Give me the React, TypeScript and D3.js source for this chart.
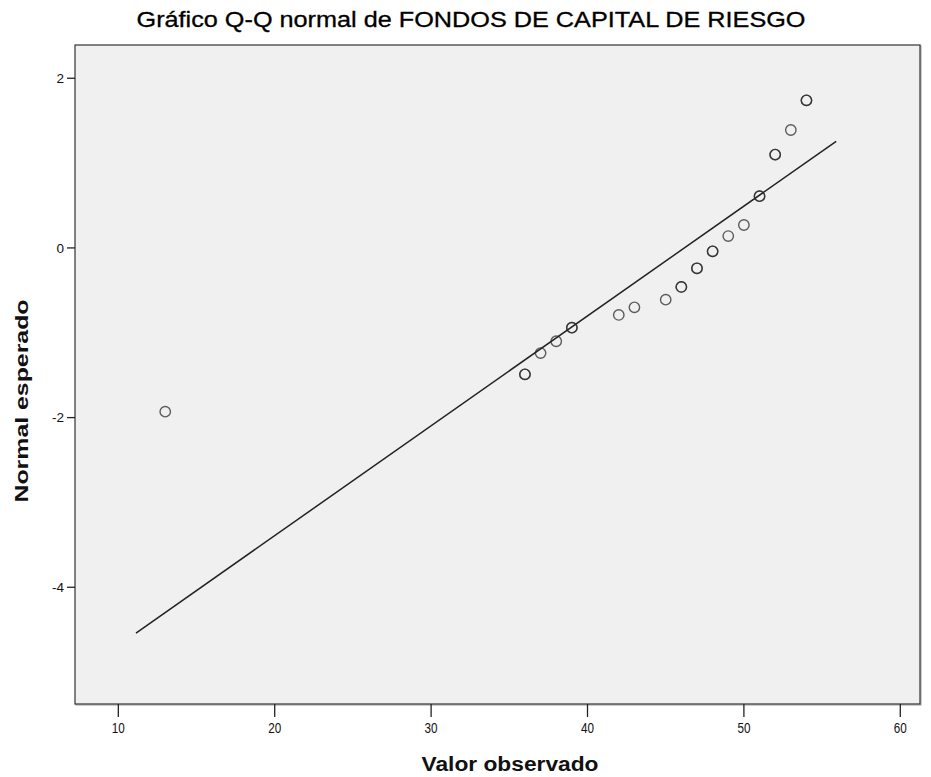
import React from "react";
import * as d3 from "d3";

// Observed values and their expected normal quantiles
const observed = [13, 36, 37, 38, 39, 42, 43, 45, 46, 47, 48, 49, 50, 51, 52, 53, 54];
const expected = [-1.93, -1.49, -1.24, -1.1, -0.94, -0.79, -0.7, -0.61, -0.46, -0.24, -0.04, 0.14, 0.27, 0.61, 1.1, 1.39, 1.74];
// How many cases share each observed value
const frequency = [1, 2, 1, 1, 2, 1, 1, 1, 2, 2, 2, 1, 1, 2, 2, 1, 2];

// Reference line endpoints (observed, expected)
const refLineX = [11.13, 55.9];
const refLineY = [-4.54, 1.257];

const xTicks = [10, 20, 30, 40, 50, 60];
const yTicks = [2, 0, -2, -4];

const W = 931;
const H = 777;
const plot = { left: 75, top: 45, right: 920, bottom: 704 };

const regular = "'Liberation Sans', Arial, sans-serif";

export default function App() {
  const x = d3.scaleLinear().domain([7.23, 61.26]).range([plot.left, plot.right]);
  const y = d3.scaleLinear().domain([-5.376, 2.392]).range([plot.bottom, plot.top]);

  const line = d3
    .line<[number, number]>()
    .x((d) => x(d[0]))
    .y((d) => y(d[1]));
  const refPts: [number, number][] = refLineX.map((v, i) => [v, refLineY[i]]);

  return (
    <svg
      width={W}
      height={H}
      style={{ position: "absolute", left: 0, top: 0, background: "#ffffff" }}
    >
      <text
        x={471}
        y={27}
        textAnchor="middle"
        style={{ fontFamily: regular, fontSize: "22px" }}
        fill="#000"
        stroke="#000"
        strokeWidth={0.3}
        textLength={669}
        lengthAdjust="spacingAndGlyphs"
      >
        Gráfico Q-Q normal de FONDOS DE CAPITAL DE RIESGO
      </text>

      {/* plot area */}
      <rect
        x={plot.left + 1}
        y={plot.top + 1}
        width={plot.right - plot.left}
        height={plot.bottom - plot.top}
        fill="none"
        stroke="#9a9a9a"
        strokeWidth={1}
      />
      <rect
        x={plot.left}
        y={plot.top}
        width={plot.right - plot.left}
        height={plot.bottom - plot.top}
        fill="#f0f0f0"
        stroke="#333"
        strokeWidth={1.2}
      />

      {/* x axis */}
      {xTicks.map((t) => (
        <g key={"x" + t}>
          <line x1={x(t)} x2={x(t)} y1={plot.bottom} y2={plot.bottom + 13} stroke="#222" strokeWidth={1.3} />
          <g transform={`translate(${x(t)},${plot.bottom + 29}) scale(0.78,1)`}>
            <text
              x={0}
              y={0}
              textAnchor="middle"
              style={{ fontFamily: regular, fontSize: "15px" }}
              fill="#111"
            >
              {t}
            </text>
          </g>
        </g>
      ))}

      {/* y axis */}
      {yTicks.map((t) => (
        <g key={"y" + t}>
          <line x1={plot.left - 8} x2={plot.left} y1={y(t)} y2={y(t)} stroke="#222" strokeWidth={1.3} />
          <text
            x={plot.left - 11}
            y={y(t)}
            dy="0.36em"
            textAnchor="end"
            style={{ fontFamily: regular, fontSize: "13.5px" }}
            fill="#111"
          >
            {t}
          </text>
        </g>
      ))}

      {/* reference line */}
      <path d={line(refPts) ?? ""} fill="none" stroke="#222" strokeWidth={1.5} />

      {/* points */}
      {observed.map((v, i) =>
        d3.range(frequency[i]).map((k) => (
          <circle
            key={`p${i}-${k}`}
            cx={x(v)}
            cy={y(expected[i])}
            r={5.2}
            fill="none"
            stroke="#2a2a2a"
            strokeOpacity={0.75}
            strokeWidth={1.4}
          />
        ))
      )}

      <text
        x={510}
        y={771}
        textAnchor="middle"
        style={{ fontFamily: regular, fontSize: "20px", fontWeight: "bold" }}
        fill="#111"
        textLength={177}
        lengthAdjust="spacingAndGlyphs"
      >
        Valor observado
      </text>
      <text
        transform={`translate(28,${401}) rotate(-90)`}
        textAnchor="middle"
        style={{ fontFamily: regular, fontSize: "18px", fontWeight: "bold" }}
        fill="#111"
        textLength={203}
        lengthAdjust="spacingAndGlyphs"
      >
        Normal esperado
      </text>
    </svg>
  );
}
